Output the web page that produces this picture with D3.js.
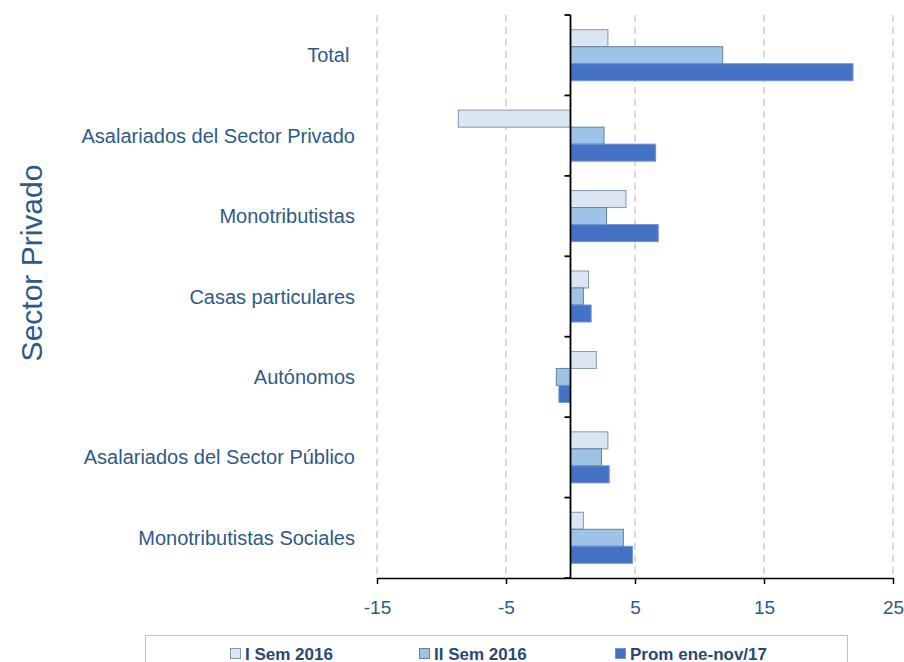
<!DOCTYPE html>
<html><head><meta charset="utf-8">
<script src="https://cdn.jsdelivr.net/npm/d3@7"></script>
<style>body{margin:0;background:#fff;} svg{display:block;font-family:"Liberation Sans",Arial,sans-serif;}</style>
</head><body>
<svg id="c" width="904" height="662"></svg>
<script>
const categories = ["Total ", "Asalariados del Sector Privado", "Monotributistas", "Casas particulares", "Autónomos", "Asalariados del Sector Público", "Monotributistas Sociales"];
const seriesNames = ["I Sem 2016", "II Sem 2016", "Prom ene-nov/17"];
const iSem2016 = [2.9, -8.7, 4.3, 1.4, 2.0, 2.9, 1.0];
const iiSem2016 = [11.8, 2.6, 2.8, 1.0, -1.1, 2.4, 4.1];
const promEneNov17 = [21.9, 6.6, 6.8, 1.6, -0.9, 3.0, 4.8];
const xTicks = [-15, -5, 5, 15, 25];
const yTitle = "Sector Privado";

const seriesValues = [iSem2016, iiSem2016, promEneNov17];
const fills = ["#dce6f2", "#9dc3e6", "#4472c4"];
const strokes = ["#8496b0", "#6a7f9a", "#6f94d6"];
const textColor = "#2e5a88";
const legendColor = "#264a73";

const svg = d3.select("#c");
const pL = 377, pR = 893, pT = 15, pB = 578;
const x = d3.scaleLinear().domain([-15, 25]).range([pL, pR]);
const y = d3.scaleBand().domain(categories).range([pT, pB]);
const inner = d3.scaleBand().domain(seriesNames).range([0, y.bandwidth()]).paddingOuter(0.865);

// gridlines
svg.append("g").selectAll("line").data(xTicks).join("line")
  .attr("x1", d => x(d)).attr("x2", d => x(d))
  .attr("y1", pT).attr("y2", pB)
  .attr("stroke", "#d9d9d9").attr("stroke-width", 2).attr("stroke-dasharray", "7,5");

// bars
const g = svg.append("g");
categories.forEach((c, i) => {
  seriesNames.forEach((s, j) => {
    const v = seriesValues[j][i];
    g.append("rect")
      .attr("x", x(Math.min(0, v)))
      .attr("y", y(c) + inner(s))
      .attr("width", Math.abs(x(v) - x(0)))
      .attr("height", inner.bandwidth())
      .attr("fill", fills[j]).attr("stroke", strokes[j]).attr("stroke-width", 1);
  });
});

// bottom axis
const xAxis = d3.axisBottom(x).tickValues(xTicks).tickFormat(d => String(d)).tickSizeInner(6).tickSizeOuter(0).tickPadding(17);
const xa = svg.append("g").attr("transform", `translate(0,${pB})`).call(xAxis);
xa.select(".domain").attr("stroke", "#000").attr("stroke-width", 1.5);
xa.selectAll(".tick line").attr("stroke", "#000").attr("stroke-width", 1.5);
xa.selectAll("text").attr("fill", textColor).attr("font-size", 19).attr("font-family", "Liberation Sans, Arial, sans-serif");

// vertical zero axis with boundary ticks
const za = svg.append("g");
za.append("line").attr("x1", x(0)).attr("x2", x(0)).attr("y1", pT).attr("y2", pB)
  .attr("stroke", "#000").attr("stroke-width", 1.8);
const bounds = categories.map(c => y(c)).concat([pB]);
za.selectAll(".bt").data(bounds).join("line").attr("class", "bt")
  .attr("x1", x(0) - 6).attr("x2", x(0)).attr("y1", d => d).attr("y2", d => d)
  .attr("stroke", "#000").attr("stroke-width", 1.8);

// category labels
svg.append("g").selectAll("text").data(categories).join("text")
  .attr("x", 355).attr("y", d => y(d) + y.bandwidth() / 2)
  .attr("text-anchor", "end").attr("dominant-baseline", "central")
  .attr("fill", textColor).attr("font-size", 20).style("white-space", "pre")
  .text(d => d);

// y title
svg.append("text").attr("transform", "translate(31,263) rotate(-90)")
  .attr("text-anchor", "middle").attr("dominant-baseline", "central")
  .attr("fill", textColor).attr("font-size", 30).text(yTitle);

// legend
const lg = svg.append("g");
lg.append("rect").attr("x", 145.5).attr("y", 635.5).attr("width", 702).attr("height", 40)
  .attr("fill", "#fff").attr("stroke", "#bfbfbf").attr("stroke-width", 1);
const legX = [230, 419, 615];
seriesNames.forEach((s, j) => {
  lg.append("rect").attr("x", legX[j] + 0.5).attr("y", 648.5).attr("width", 10).attr("height", 10)
    .attr("fill", fills[j]).attr("stroke", strokes[j]).attr("stroke-width", 1);
  lg.append("text").attr("x", legX[j] + 15).attr("y", 654).attr("dominant-baseline", "central")
    .attr("fill", legendColor).attr("font-size", 17).attr("font-weight", "bold").text(s);
});
</script>
</body></html>
